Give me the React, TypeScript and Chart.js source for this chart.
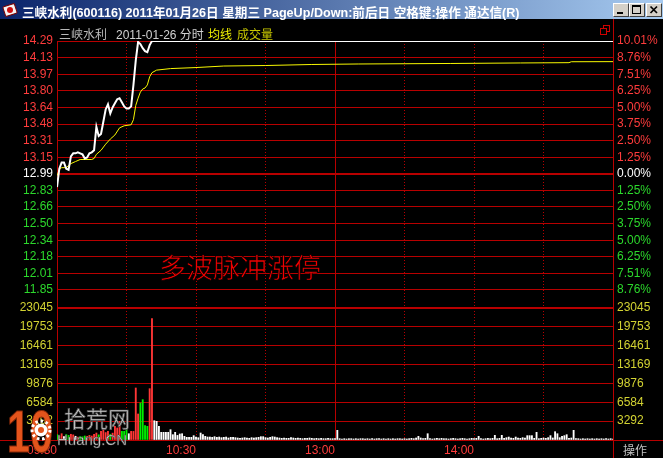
import { useEffect, useRef } from 'react';
import { Chart, registerables } from 'chart.js';

Chart.register(...registerables);

// ---- 三峡水利 (600116) intraday, 2011-01-26 ----
const PREV_CLOSE = 12.99;
const LIMIT_UP = 14.29;
const VOL_SCALE_TOP = 23045;
const SESSION_MINUTES = 240;

// scale labels, top row first
const priceLabels = ['14.29', '14.13', '13.97', '13.80', '13.64', '13.48', '13.31', '13.15', '12.99', '12.83', '12.66', '12.50', '12.34', '12.18', '12.01', '11.85'];
const pctLabels = ['10.01%', '8.76%', '7.51%', '6.25%', '5.00%', '3.75%', '2.50%', '1.25%', '0.00%', '1.25%', '2.50%', '3.75%', '5.00%', '6.25%', '7.51%', '8.76%'];
const volLabels = ['23045', '19753', '16461', '13169', '9876', '6584', '3292', ''];

const timeTickMinutes = [0, 60, 120, 180];
const timeLabels = ['09:30', '10:30', '13:00', '14:00'];

// last price per minute from 09:30 until the stock locks at the limit
const runUpPrices = [
  12.86, 13.04, 13.10, 13.10, 13.04, 13.03, 13.16, 13.19, 13.19, 13.20,
  13.19, 13.18, 13.14, 13.15, 13.19, 13.20, 13.22, 13.45, 13.36, 13.38,
  13.50, 13.62, 13.67, 13.58, 13.64, 13.68, 13.72, 13.73, 13.69, 13.65,
  13.63, 13.63, 13.65, 13.86, 14.10, 14.28, 14.26, 14.22, 14.19, 14.18,
  14.25, 14.29,
];

// average price line, sampled where it bends
const avgMinutes = [0, 1, 2, 4, 6, 8, 10, 15, 16, 17, 19, 21, 23, 25, 27, 29, 32, 33, 34, 35, 36, 37, 38, 39, 40, 41, 43, 49, 60, 72, 90, 110, 130, 170, 200, 221, 222, 240];
const avgPrices = [12.97, 13.03, 13.05, 13.05, 13.09, 13.11, 13.13, 13.13, 13.14, 13.18, 13.22, 13.28, 13.33, 13.37, 13.44, 13.46, 13.47, 13.52, 13.66, 13.73, 13.79, 13.82, 13.83, 13.86, 13.94, 13.98, 14.005, 14.02, 14.03, 14.045, 14.05, 14.06, 14.065, 14.07, 14.075, 14.078, 14.087, 14.088];

// volume per minute (lots): index 0 = 09:30 ... 240 = 15:00
const volumes = [
  930, 700, 1100, 600, 950, 800, 1000, 900, 650, 500,
  600, 550, 700, 650, 800, 700, 1000, 1220, 900, 1510,
  1800, 1300, 1510, 1000, 1200, 2390, 2100, 3260, 1510, 1510,
  1800, 1100, 1510, 1500, 9080, 4540, 6460, 7040, 2500, 2390,
  8960, 21180, 3370, 3260, 2390, 1340, 1340, 1340, 1340, 1800,
  930, 1340, 800, 1050, 1100, 640, 470, 470, 470, 760,
  520, 400, 1220, 930, 640, 520, 520, 470, 580, 470,
  520, 410, 470, 520, 350, 470, 470, 410, 350, 290,
  350, 410, 350, 290, 410, 350, 410, 470, 580, 580,
  410, 350, 470, 580, 520, 410, 350, 290, 350, 290,
  290, 410, 350, 290, 350, 290, 230, 290, 290, 350,
  290, 230, 290, 230, 290, 230, 230, 290, 230, 230,
  230, 1690, 230, 175, 230, 175, 230, 230, 175, 230,
  175, 230, 230, 175, 230, 175, 230, 175, 230, 230,
  175, 230, 175, 230, 175, 230, 175, 230, 230, 175,
  230, 175, 230, 290, 230, 350, 640, 350, 230, 290,
  1100, 230, 175, 230, 290, 230, 290, 230, 230, 175,
  230, 290, 230, 175, 230, 290, 230, 175, 230, 290,
  230, 290, 640, 230, 175, 230, 290, 230, 290, 815,
  230, 290, 815, 290, 410, 520, 350, 290, 520, 350,
  290, 410, 350, 760, 760, 760, 290, 1340, 230, 290,
  350, 290, 410, 760, 350, 1450, 1100, 410, 640, 760,
  930, 290, 350, 1690, 230, 230, 175, 230, 175, 230,
  175, 230, 175, 230, 175, 230, 175, 230, 175, 230,
  175,
];

// ---- window layout ----
const W = 663;
const H = 458;
const TITLE_H = 19;
const PLOT_LEFT = 57;
const PLOT_RIGHT = 613;
const PLOT_TOP = 41;
const PRICE_BOTTOM = 290;
const VOL_TOP = 308;
const PLOT_BOTTOM = 440;

const GRID_RED = '#B80000';
const TEXT_RED = '#FF3C3C';
const TEXT_GREEN = '#2CD82C';
const TEXT_YELLOW = '#D2D232';
const BAR_RED = '#FF3636';
const BAR_GREEN = '#00F000';
const FONT = '"Liberation Sans", Arial, sans-serif';
const CJK = '"Noto Sans CJK SC", sans-serif';

const priceStep = (LIMIT_UP - PREV_CLOSE) / 8;
const ZERO_ROW = Math.round((LIMIT_UP - PREV_CLOSE) / priceStep);
const priceTickValues = priceLabels.map((_, i) => LIMIT_UP - i * priceStep);
const priceFloor = priceTickValues[priceTickValues.length - 1];
// the price pane runs down to the top of the volume pane; its lowest grid row lands on PRICE_BOTTOM
const priceAxisMin = LIMIT_UP - ((LIMIT_UP - priceFloor) * (VOL_TOP - PLOT_TOP)) / (PRICE_BOTTOM - PLOT_TOP);
const volStep = VOL_SCALE_TOP / (volLabels.length - 1);
const volTickValues = volLabels.map((_, i) => VOL_SCALE_TOP - i * volStep);

const priceAt = (m: number) => (m < runUpPrices.length ? runUpPrices[m] : LIMIT_UP);
const priceRow = (v: number) => Math.round((LIMIT_UP - v) / priceStep);
const volRow = (v: number) => Math.round((VOL_SCALE_TOP - v) / volStep);
const rowColor = (i: number) => (i < ZERO_ROW ? TEXT_RED : i === ZERO_ROW ? '#FFFFFF' : TEXT_GREEN);

const tickFont = { family: FONT, size: 12 };

// extends the right border and the bottom line across the whole window
const framePlugin = {
  id: 'quoteFrame',
  afterDraw(chart: any) {
    const { ctx } = chart;
    const x = Math.round(chart.scales.x.getPixelForValue(SESSION_MINUTES) - 0.5) + 0.5;
    const y = Math.round(chart.scales.v.getPixelForValue(0) - 0.5) + 0.5;
    ctx.save();
    ctx.strokeStyle = GRID_RED;
    ctx.lineWidth = 1;
    ctx.beginPath();
    ctx.moveTo(x, 0);
    ctx.lineTo(x, chart.height);
    ctx.moveTo(0, y);
    ctx.lineTo(chart.width, y);
    ctx.stroke();
    ctx.restore();
  },
};

function buildChart(canvas: HTMLCanvasElement) {
  const priceData = runUpPrices
    .map((p, m) => ({ x: m, y: p }))
    .concat([{ x: SESSION_MINUTES, y: LIMIT_UP }]);
  const avgData = avgMinutes.map((m, i) => ({ x: m, y: avgPrices[i] }));
  const volData = volumes.map((v, m) => ({ x: m, y: v }));
  const barColors = volumes.map((_, m) => {
    const prev = m === 0 ? PREV_CLOSE : priceAt(m - 1);
    const p = priceAt(m);
    return p > prev ? BAR_RED : p < prev ? BAR_GREEN : '#FFFFFF';
  });

  // price pane on top, volume pane below: each side stacks the two scales
  const priceSide = (labels: string[], pos: 'left' | 'right', width: number, grid: boolean) => ({
    type: 'linear',
    position: pos,
    stack: pos,
    stackWeight: VOL_TOP - PLOT_TOP,
    weight: pos === 'left' ? 2 : 0,
    min: priceAxisMin,
    max: LIMIT_UP,
    afterBuildTicks: (s: any) => {
      s.ticks = priceTickValues.map((value) => ({ value }));
    },
    afterFit: (s: any) => {
      s.width = width;
    },
    grid: {
      display: grid,
      drawTicks: false,
      color: GRID_RED,
      lineWidth: (c: any) => (c.tick && priceRow(c.tick.value) === ZERO_ROW ? 2 : 1),
    },
    border: { display: false },
    ticks: {
      autoSkip: false,
      padding: 4,
      font: tickFont,
      color: (c: any) => (c.tick ? rowColor(priceRow(c.tick.value)) : TEXT_RED),
      callback: (v: number) => labels[priceRow(v)],
    },
  });

  const volSide = (pos: 'left' | 'right', width: number, grid: boolean) => ({
    type: 'linear',
    position: pos,
    stack: pos,
    stackWeight: PLOT_BOTTOM - VOL_TOP,
    weight: pos === 'left' ? 0 : 2,
    min: 0,
    max: VOL_SCALE_TOP,
    afterBuildTicks: (s: any) => {
      s.ticks = volTickValues.map((value) => ({ value }));
    },
    afterFit: (s: any) => {
      s.width = width;
    },
    grid: {
      display: grid,
      drawTicks: false,
      color: GRID_RED,
      lineWidth: (c: any) => (c.tick && volRow(c.tick.value) === 0 ? 2 : 1),
    },
    border: { display: false },
    ticks: {
      autoSkip: false,
      padding: 4,
      font: tickFont,
      color: TEXT_YELLOW,
      callback: (v: number) => volLabels[volRow(v)],
    },
  });

  return new Chart(canvas, {
    type: 'line',
    data: {
      datasets: [
        {
          type: 'line',
          label: '分时',
          data: priceData,
          yAxisID: 'y',
          borderColor: '#FFFFFF',
          borderWidth: 2,
          pointRadius: 0,
          tension: 0,
          order: 1,
        },
        {
          type: 'line',
          label: '均线',
          data: avgData,
          yAxisID: 'y',
          borderColor: '#F8F800',
          borderWidth: 1,
          pointRadius: 0,
          tension: 0,
          order: 2,
        },
        {
          type: 'bar',
          label: '成交量',
          data: volData,
          yAxisID: 'v',
          backgroundColor: barColors,
          barThickness: 1.2,
          grouped: false,
          order: 3,
        },
      ],
    } as any,
    options: {
      animation: false,
      responsive: false,
      devicePixelRatio: 1,
      events: [],
      layout: { padding: { top: PLOT_TOP, left: 0, right: 0, bottom: 0 } },
      plugins: { legend: { display: false }, tooltip: { enabled: false } },
      scales: {
        x: {
          type: 'linear',
          position: 'bottom',
          min: 0,
          max: SESSION_MINUTES,
          offset: false,
          afterBuildTicks: (s: any) => {
            const t = [];
            for (let m = 0; m <= SESSION_MINUTES; m += 30) t.push({ value: m });
            s.ticks = t;
          },
          afterFit: (s: any) => {
            s.height = H - PLOT_BOTTOM;
          },
          grid: { color: GRID_RED, lineWidth: 1, drawTicks: false, offset: false },
          border: {
            display: false,
            dash: (c: any) => (c.tick && c.tick.value % 120 !== 0 ? [1, 2] : []),
          },
          ticks: {
            autoSkip: false,
            maxRotation: 0,
            minRotation: 0,
            align: 'end',
            padding: 3,
            color: TEXT_RED,
            font: tickFont,
            callback: (v: number) => {
              const i = timeTickMinutes.indexOf(v);
              return i >= 0 ? timeLabels[i] : '';
            },
          },
        },
        y: priceSide(priceLabels, 'left', PLOT_LEFT, true),
        v: volSide('left', PLOT_LEFT, true),
        yR: priceSide(pctLabels, 'right', W - PLOT_RIGHT, false),
        vR: volSide('right', W - PLOT_RIGHT, false),
      } as any,
    },
    plugins: [framePlugin],
  });
}

function TitleBar() {
  const btn = (left: number, glyph: any) => (
    <div
      style={{
        position: 'absolute',
        left,
        top: 3,
        width: 16,
        height: 14,
        boxSizing: 'border-box',
        background: '#D4D0C8',
        borderTop: '1px solid #FFFFFF',
        borderLeft: '1px solid #FFFFFF',
        borderRight: '1px solid #404040',
        borderBottom: '1px solid #404040',
      }}
    >
      {glyph}
    </div>
  );
  return (
    <div
      style={{
        position: 'absolute',
        left: 0,
        top: 0,
        width: W,
        height: TITLE_H,
        background: 'linear-gradient(to right, #0A246A, #A6CAF0)',
      }}
    >
      <svg width={16} height={16} style={{ position: 'absolute', left: 2, top: 2 }}>
        <rect x={2} y={3} width={12} height={10} rx={1} fill="#F4F4F4" stroke="#7A0000" transform="rotate(-18 8 8)" />
        <circle cx={8} cy={8} r={3} fill="#D01010" />
      </svg>
      <div
        style={{
          position: 'absolute',
          left: 22,
          top: 2,
          lineHeight: '15px',
          whiteSpace: 'nowrap',
          color: '#FFFFFF',
          font: `bold 12.6px ${FONT}, ${CJK}`,
        }}
      >
        三峡水利(600116) 2011年01月26日 星期三 PageUp/Down:前后日 空格键:操作 通达信(R)
      </div>
      {btn(613, <div style={{ position: 'absolute', left: 3, top: 8, width: 6, height: 2, background: '#000' }} />)}
      {btn(
        629,
        <div
          style={{
            position: 'absolute',
            left: 2,
            top: 1,
            width: 9,
            height: 9,
            boxSizing: 'border-box',
            border: '1px solid #000',
            borderTop: '2px solid #000',
          }}
        />,
      )}
      {btn(
        646,
        <svg width={14} height={12} style={{ position: 'absolute', left: 0, top: 0 }}>
          <path d="M3.5 2.5 L10 9 M10 2.5 L3.5 9" stroke="#000" strokeWidth={1.7} />
        </svg>,
      )}
    </div>
  );
}

function Watermark() {
  return (
    <svg width={140} height={58} style={{ position: 'absolute', left: 0, top: 400 }}>
      <text
        x={7}
        y={52}
        textLength={46}
        lengthAdjust="spacingAndGlyphs"
        fontFamily={FONT}
        fontWeight="bold"
        fontSize={60}
        fill="#E4541C"
        stroke="#8A2A08"
        strokeWidth={1}
      >
        10
      </text>
      <circle cx={41} cy={30} r={9} fill="none" stroke="#FFFFFF" strokeWidth={3} strokeDasharray="2.6 2.6" />
      <circle cx={41} cy={30} r={6.5} fill="#FFFFFF" />
      <circle cx={41} cy={30} r={3} fill="#E4541C" />
      <text x={64} y={27} fontFamily={CJK} fontSize={22} fill="#C8C8C8" stroke="#505050" strokeWidth={0.7}>
        拾荒网
      </text>
      <text x={57} y={45} fontFamily={FONT} fontSize={15} fill="#E2E2E2" stroke="#404040" strokeWidth={0.5}>
        Huang.CN
      </text>
    </svg>
  );
}

export default function App() {
  const canvasRef = useRef<HTMLCanvasElement>(null);

  useEffect(() => {
    const chart = buildChart(canvasRef.current as HTMLCanvasElement);
    return () => chart.destroy();
  }, []);

  const label = (left: number, color: string, text: string, family = CJK) => (
    <span
      style={{
        position: 'absolute',
        left,
        top: 25,
        lineHeight: '14px',
        whiteSpace: 'nowrap',
        color,
        font: `12px ${family}`,
      }}
    >
      {text}
    </span>
  );

  return (
    <div
      style={{
        position: 'fixed',
        left: 0,
        top: 0,
        width: W,
        height: H,
        background: '#000000',
        overflow: 'hidden',
      }}
    >
      <canvas
        ref={canvasRef}
        width={W}
        height={H}
        style={{ position: 'absolute', left: 0, top: 0, width: W, height: H }}
      />
      <TitleBar />
      {label(59, '#B8B8B8', '三峡水利')}
      {label(116, '#D0D0D0', '2011-01-26 分时', `${FONT}, ${CJK}`)}
      {label(208, '#F0F000', '均线')}
      {label(237, '#C8C800', '成交量')}
      <div
        style={{
          position: 'absolute',
          left: 603,
          top: 25,
          width: 7,
          height: 7,
          boxSizing: 'border-box',
          border: '1px solid #D00000',
        }}
      />
      <div
        style={{
          position: 'absolute',
          left: 600,
          top: 28,
          width: 7,
          height: 7,
          boxSizing: 'border-box',
          border: '1px solid #D00000',
          background: '#000000',
        }}
      />
      <div
        style={{
          position: 'absolute',
          left: 159,
          top: 250,
          whiteSpace: 'nowrap',
          color: '#F00000',
          font: `27px ${CJK}`,
          lineHeight: '34px',
          WebkitTextStroke: '0.7px #000000',
        }}
      >
        多波脉冲涨停
      </div>
      <Watermark />
      <span
        style={{
          position: 'absolute',
          left: 623,
          top: 441,
          lineHeight: '14px',
          color: '#C0C0C0',
          font: `12px ${CJK}`,
        }}
      >
        操作
      </span>
    </div>
  );
}
